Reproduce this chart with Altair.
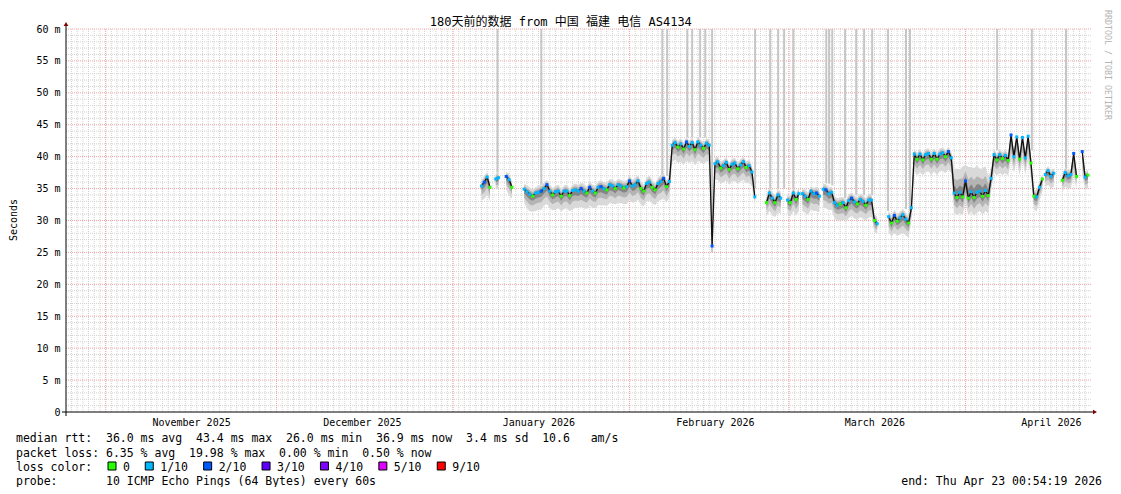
import altair as alt
import pandas as pd
from datetime import datetime, timedelta

FONT = "DejaVu Sans Mono, Noto Sans CJK SC, monospace"

# ---------------- data ----------------
title_text = "180天前的数据 from 中国 福建 电信 AS4134"
month_labels = ["2025-11-16", "2025-12-16", "2026-01-16", "2026-02-16", "2026-03-16", "2026-04-16"]
month_starts = ["2025-11-01", "2025-12-01", "2026-01-01", "2026-02-01", "2026-03-01", "2026-04-01"]

# segments of continuous data: start (days after 2026-01-01) and number of 12h samples
seg_start_day = [5.0, 7.5, 9.35, 12.5, 55.05, 58.75, 61.35, 65.0, 76.5, 104.0, 107.0, 110.5]
seg_count = [4, 2, 3, 82, 6, 5, 7, 20, 55, 4, 6, 3]

# median rtt (ms), one value per 12h sample
median = [
    35.4, 36.0, 36.8, 35.2,
    36.5, 36.7,
    36.9, 36.4, 35.2,
    # D
    34.9, 34.5, 34.1, 33.8, 34.3, 34.4, 34.6, 35.0, 35.6, 34.6,
    34.0, 34.5, 34.6, 33.8, 34.6, 34.6, 33.9, 34.7, 34.8, 34.6,
    35.0, 34.6, 34.3, 35.2, 34.6, 34.3, 35.2, 35.3, 35.0, 34.8,
    35.6, 35.4, 35.0, 35.6, 35.4, 35.1, 35.3, 36.2, 35.4, 35.6,
    36.2, 35.0, 34.6, 35.8, 36.0, 35.2, 34.8, 35.8, 36.1, 36.6,
    35.3, 36.1,
    41.8,
    42.2, 41.5, 42.0, 41.2, 42.3, 41.6, 42.2, 41.1, 42.3, 41.8, 41.3, 42.1, 41.8,
    26.0,
    38.9, 39.2, 38.2, 38.6, 39.1, 38.0, 38.8, 39.0, 38.1, 38.7, 39.2, 38.3, 38.6, 37.6,
    33.7,
    # E
    32.8, 34.3, 33.5, 32.8, 34.0, 33.5,
    # F
    33.2, 32.8, 34.3, 33.3, 34.2,
    # G
    34.2, 33.8, 33.3, 34.6, 34.2, 34.3, 33.8,
    # H
    34.9, 34.8, 34.2, 34.4, 32.8, 32.4, 32.6, 32.8, 32.0, 33.1,
    33.5, 32.9, 32.6, 33.3, 33.0, 32.4, 33.2, 33.2, 30.0, 29.5,
    # I
    30.6, 29.6, 30.8, 29.9, 30.4, 30.9, 30.2, 29.6,
    32.0,
    40.4, 39.6, 40.4, 39.5, 40.3, 40.5, 39.6, 40.5, 39.6, 40.4, 40.6, 40.0, 40.8, 39.8,
    34.3, 33.6, 34.4, 33.7, 36.2, 33.5, 34.5, 33.6, 34.4, 34.6, 33.8, 34.7, 33.9,
    36.6,
    40.3, 39.5, 40.3, 39.7, 40.2, 39.4,
    43.4, 40.0, 43.1, 39.6, 43.0, 39.8, 43.2, 39.0,
    33.8, 33.7, 35.2, 36.5,
    # J
    37.2, 37.8, 36.9, 37.4,
    # K
    36.3, 37.5, 37.0, 37.2, 40.5, 36.9,
    # L
    40.8, 36.8, 37.1,
]

# loss colour class per sample: 0 -> 0, 1 -> 1/10, 2 -> 2/10
loss = [
    1, 2, 1, 0,
    1, 1,
    2, 1, 0,
    1, 1, 1, 0, 1, 1, 2, 1, 2, 1,
    0, 1, 1, 0, 1, 1, 0, 1, 1, 1,
    2, 1, 0, 2, 1, 0, 1, 2, 1, 0,
    1, 1, 0, 1, 1, 0, 1, 2, 1, 1,
    1, 0, 0, 1, 1, 0, 0, 1, 1, 2,
    0, 1,
    1,
    1, 0, 1, 0, 2, 1, 1, 0, 1, 1, 0, 1, 1,
    2,
    1, 1, 0, 1, 1, 0, 1, 1, 0, 1, 1, 0, 1, 1,
    1,
    0, 1, 1, 0, 1, 1,
    1, 0, 1, 0, 1,
    1, 1, 0, 1, 1, 2, 1,
    1, 2, 1, 1, 1, 1, 0, 1, 0, 1, 2, 1, 0, 1, 1, 0, 1, 1, 0, 1,
    1, 0, 2, 0, 1, 1, 1, 0,
    1,
    1, 0, 1, 0, 1, 1, 0, 1, 0, 1, 1, 0, 2, 1,
    1, 0, 1, 0, 2, 0, 1, 0, 1, 1, 0, 1, 0,
    1,
    1, 0, 1, 0, 1, 0,
    2, 1, 1, 0, 1, 1, 1, 0,
    0, 1, 1, 0,
    1, 1, 1, 1,
    0, 1, 1, 1, 2, 0,
    2, 1, 0,
]

# how far the smoke reaches below / above the median (ms)
smoke_below = [
    2.3, 2.6, 2.8, 2.2,
    1.6, 1.8,
    2.0, 2.5, 1.8,
    2.2, 2.6, 2.7, 2.4, 2.8, 2.7, 2.9, 2.6, 3.0, 2.7,
    2.4, 2.8, 2.7, 2.4, 2.8, 2.7, 2.5, 2.9, 2.8, 2.6,
    2.9, 2.7, 2.5, 2.9, 2.6, 2.4, 2.8, 2.9, 2.6, 2.5,
    2.9, 2.7, 2.5, 2.8, 2.7, 2.5, 2.7, 3.0, 2.6, 2.7,
    2.9, 2.5, 2.4, 2.8, 2.9, 2.5, 2.4, 2.8, 2.9, 3.1,
    2.5, 2.4,
    2.6,
    2.7, 2.5, 2.8, 2.5, 2.9, 2.6, 2.8, 2.5, 2.9, 2.7, 2.5, 2.8, 2.6,
    0.8,
    2.5, 2.8, 2.4, 2.6, 2.8, 2.4, 2.7, 2.8, 2.4, 2.6, 2.8, 2.5, 2.6, 2.3,
    1.2,
    2.2, 2.8, 2.6, 2.3, 2.7, 2.5,
    2.3, 2.2, 2.8, 2.5, 2.7,
    2.7, 2.6, 2.4, 2.9, 2.7, 2.8, 2.5,
    2.8, 2.9, 2.6, 2.7, 2.5, 2.4, 2.6, 2.7, 2.3, 2.7,
    2.8, 2.6, 2.5, 2.8, 2.7, 2.4, 2.7, 2.6, 1.8, 1.6,
    2.4, 2.2, 2.7, 2.3, 2.6, 2.8, 2.5, 2.3,
    2.0,
    2.7, 2.5, 2.8, 2.4, 2.7, 2.8, 2.5, 2.8, 2.5, 2.7, 2.8, 2.6, 2.8, 2.4,
    3.0, 2.8, 3.2, 2.9, 3.4, 2.7, 3.1, 2.9, 3.2, 3.1, 2.9, 3.2, 2.8,
    2.0,
    2.7, 2.5, 2.8, 2.6, 2.7, 2.4,
    3.8, 2.6, 3.6, 2.5, 3.5, 2.6, 3.7, 2.4,
    2.0, 2.3, 2.1, 1.9,
    2.0, 2.2, 1.9, 2.1,
    1.8, 2.2, 2.0, 2.1, 3.5, 2.0,
    3.6, 2.0, 2.1,
]
smoke_above = [
    0.9, 1.0, 0.8, 0.9,
    0.9, 0.8,
    0.8, 0.9, 0.9,
    0.9, 1.0, 1.1, 1.0, 0.9, 1.0, 1.1, 0.9, 0.8, 1.0,
    1.1, 0.9, 1.0, 1.1, 0.9, 1.0, 1.1, 0.9, 1.0, 1.0,
    0.9, 1.1, 1.0, 0.9, 1.0, 1.1, 0.9, 1.0, 1.0, 1.1,
    0.9, 1.0, 1.1, 0.9, 1.0, 1.1, 1.0, 0.9, 1.0, 1.1,
    0.9, 1.1, 1.0, 0.9, 1.0, 1.1, 1.0, 0.9, 1.0, 0.8,
    1.0, 1.0,
    0.9,
    0.8, 1.0, 0.9, 1.0, 0.8, 0.9, 0.8, 1.0, 0.8, 0.9, 1.0, 0.8, 0.9,
    3.0,
    0.9, 0.8, 1.0, 0.9, 0.8, 1.0, 0.9, 0.8, 1.0, 0.9, 0.8, 1.0, 0.9, 1.0,
    0.8,
    1.0, 0.9, 1.0, 1.1, 0.9, 1.0,
    1.0, 1.1, 0.9, 1.0, 0.9,
    0.9, 1.0, 1.1, 0.8, 0.9, 1.0, 1.0,
    0.8, 0.9, 1.0, 0.9, 1.0, 1.1, 1.0, 0.9, 1.2, 1.0,
    0.9, 1.0, 1.1, 0.9, 1.0, 1.1, 1.0, 0.9, 1.0, 1.1,
    1.0, 1.1, 0.9, 1.1, 1.0, 0.9, 1.0, 1.1,
    1.0,
    0.8, 1.0, 0.8, 1.0, 0.9, 0.8, 1.0, 0.8, 1.0, 0.9, 0.8, 1.0, 0.7, 1.0,
    3.8, 4.5, 3.6, 4.8, 2.5, 4.9, 3.9, 4.6, 4.2, 3.5, 4.4, 3.8, 3.0,
    1.5,
    0.9, 1.0, 0.9, 1.0, 0.9, 1.0,
    0.5, 1.0, 0.5, 1.0, 0.5, 1.0, 0.5, 1.2,
    1.0, 1.1, 0.9, 0.8,
    0.8, 0.7, 0.9, 0.8,
    0.9, 0.8, 0.9, 0.8, 0.5, 0.9,
    0.5, 0.9, 0.8,
]

# smoke columns that run off the top of the graph (days after 2026-01-01, lower end in ms)
spike_day = [7.8, 15.5, 36.75, 37.6, 41.15, 42.0, 43.4, 44.3, 45.5, 53.05, 55.7, 57.1, 58.15, 59.75,
             65.55, 66.05, 66.6, 68.85, 70.8, 72.2, 73.6, 76.4, 79.55, 80.25, 95.55, 101.65, 107.65]
spike_bottom = [37.5, 35.0, 37.0, 37.0, 43.0, 43.0, 43.0, 43.0, 25.0, 35.0, 35.0, 35.0, 35.0, 35.0,
                35.8, 35.8, 35.5, 33.5, 34.0, 34.0, 34.0, 31.5, 31.8, 31.5, 41.0, 41.0, 38.0]

loss_names = ["0", "1/10", "2/10", "3/10", "4/10", "5/10", "9/10"]
loss_colors = ["#26ff00", "#00b8ff", "#0059ff", "#5e00ff", "#7e00ff", "#dd00ff", "#ff0000"]

y_ticks = [0, 5, 10, 15, 20, 25, 30, 35, 40, 45, 50, 55, 60]

legend_rtt = "median rtt:  36.0 ms avg  43.4 ms max  26.0 ms min  36.9 ms now  3.4 ms sd  10.6   am/s"
legend_loss = "packet loss: 6.35 % avg  19.98 % max  0.00 % min  0.50 % now"
legend_color = "loss color:"
legend_probe = "probe:       10 ICMP Echo Pings (64 Bytes) every 60s"
legend_end = "end: Thu Apr 23 00:54:19 2026"
watermark = "RRDTOOL / TOBI OETIKER"
y_title = "Seconds"

# ---------------- build tables ----------------
n_total = sum(seg_count)
for name, arr in [("median", median), ("loss", loss), ("smoke_below", smoke_below), ("smoke_above", smoke_above)]:
    if len(arr) != n_total:
        raise SystemExit(f"{name} has {len(arr)} values, expected {n_total}")

BASE = datetime(2026, 1, 1)


def iso(d):
    return (BASE + timedelta(days=d)).strftime("%Y-%m-%dT%H:%M:%S")


rows = []
i = 0
for s, (d0, n) in enumerate(zip(seg_start_day, seg_count)):
    for k in range(n):
        m = median[i]
        b = smoke_below[i]
        a = smoke_above[i]
        rows.append(dict(t=iso(d0 + 0.5 * k), seg=s, med=m, lossname=loss_names[loss[i]],
                         lo1=m - b, hi1=m + a, lo2=m - 0.6 * b, hi2=m + 0.6 * a,
                         lo3=m - 0.3 * b, hi3=m + 0.3 * a))
        i += 1
df = pd.DataFrame(rows)

df_spk = pd.DataFrame({"t": [iso(d) for d in spike_day], "bottom": spike_bottom})
days = pd.date_range("2025-10-26", "2026-04-22", freq="D")
df_days = pd.DataFrame({"t": [d.strftime("%Y-%m-%dT%H:%M:%S") for d in days]})
df_months = pd.DataFrame({"t": [m + "T00:00:00" for m in month_starts]})
df_hmin = pd.DataFrame({"v": [v for v in range(1, 60) if v % 5 != 0]})
df_hmaj = pd.DataFrame({"v": [v for v in range(5, 61, 5)]})

# ---------------- scales / axes ----------------
W, H = 1025, 383
xscale = alt.Scale(domain=[alt.DateTime(year=2025, month=10, date=25, hours=0, minutes=54, seconds=19),
                           alt.DateTime(year=2026, month=4, date=23, hours=0, minutes=54, seconds=19)])
yscale = alt.Scale(domain=[0, 60], nice=False, zero=False)
xaxis = alt.Axis(values=[alt.DateTime(year=int(m[:4]), month=int(m[5:7]), date=int(m[8:10])) for m in month_labels],
                 format="%B %Y", labelFont=FONT, labelFontSize=10, labelColor="#000", ticks=False,
                 domain=False, grid=False, labelPadding=5, title=None, labelOverlap=False, labelFlush=False)
yaxis = alt.Axis(values=y_ticks, labelExpr="datum.value == 0 ? '0' : datum.value + ' m'",
                 labelFont=FONT, labelFontSize=10, labelColor="#000", ticks=False, domain=False,
                 grid=False, labelPadding=6, title=None)


def X(f):
    return alt.X(f, type="temporal", scale=xscale, axis=xaxis)


def Y(f):
    return alt.Y(f, type="quantitative", scale=yscale, axis=yaxis)


layers = []
layers.append(alt.Chart(df_days).mark_rule(color="#d2d2d2", strokeWidth=1, strokeDash=[1, 1]).encode(x=X("t")))
layers.append(alt.Chart(df_hmin).mark_rule(color="#d2d2d2", strokeWidth=1, strokeDash=[1, 1]).encode(y=Y("v")))
layers.append(alt.Chart(df_months).mark_rule(color="#f2a4a4", strokeWidth=1, strokeDash=[1, 1]).encode(x=X("t")))
layers.append(alt.Chart(df_hmaj).mark_rule(color="#f2a4a4", strokeWidth=1, strokeDash=[1, 1]).encode(y=Y("v")))

layers.append(alt.Chart(df_spk).mark_rule(color="#c6c6c6", strokeWidth=2).encode(
    x=X("t"), y=Y("bottom"), y2=alt.value(0)))

for lo, hi, col in [("lo1", "hi1", "#d9d9d9"), ("lo2", "hi2", "#b4b4b4"), ("lo3", "hi3", "#858585")]:
    layers.append(alt.Chart(df).mark_area(color=col, opacity=1).encode(
        x=X("t"), y=Y(lo), y2=alt.Y2(hi), detail="seg:N"))

layers.append(alt.Chart(df).mark_line(color="#111111", strokeWidth=1.3).encode(
    x=X("t"), y=Y("med"), detail="seg:N"))
layers.append(alt.Chart(df).mark_square(size=9, opacity=1).encode(
    x=X("t"), y=Y("med"),
    color=alt.Color("lossname:N", scale=alt.Scale(domain=loss_names, range=loss_colors), legend=None)))


def txt(s, x, y, size=11.5, align="left", angle=0, color="#000", baseline="middle"):
    s = s.replace(" ", "\u00a0")
    return alt.Chart(pd.DataFrame({"s": [s]})).mark_text(
        font=FONT, fontSize=size, align=align, baseline=baseline, angle=angle, color=color
    ).encode(x=alt.value(x), y=alt.value(y), text="s:N")


# axis lines and arrows
layers.append(alt.Chart(pd.DataFrame({"a": [0]})).mark_rule(color="#000", strokeWidth=1).encode(
    x=alt.value(-4), x2=alt.value(W + 3), y=alt.value(H)))
layers.append(alt.Chart(pd.DataFrame({"a": [0]})).mark_rule(color="#000", strokeWidth=1).encode(
    x=alt.value(0), y=alt.value(-4), y2=alt.value(H + 4)))
layers.append(alt.Chart(pd.DataFrame({"a": [0]})).mark_point(shape="triangle-up", filled=True, size=22,
                                                              color="#800000", opacity=1).encode(
    x=alt.value(0), y=alt.value(-5)))
layers.append(alt.Chart(pd.DataFrame({"a": [0]})).mark_point(shape="triangle-right", filled=True, size=22,
                                                              color="#800000", opacity=1).encode(
    x=alt.value(W + 4), y=alt.value(H)))

# texts
layers.append(txt(title_text, 494.8, -7.5, size=12, align="center"))
layers.append(txt(watermark, 1041, 36, size=8.3, align="center", angle=90, color="#b4b4b4"))
layers.append(txt(y_title, -52.5, 191, size=10, align="center", angle=270))
layers.append(txt(legend_rtt, -50, 410))
layers.append(txt(legend_loss, -50, 424.5))
layers.append(txt(legend_color, -50, 438.5))
layers.append(txt(legend_probe, -50, 452.5))
layers.append(txt(legend_end, 1036, 452.5, align="right"))

# loss colour legend: each item is a box, a space, its label and a gap (monospace cells)
CHAR_W = 7.05
bx = 42.0
for nm, col in zip(loss_names, loss_colors):
    layers.append(alt.Chart(pd.DataFrame({"a": [0]})).mark_rect(color=col, stroke="#000", strokeWidth=1).encode(
        x=alt.value(bx), x2=alt.value(bx + 8), y=alt.value(433), y2=alt.value(441)))
    layers.append(txt(nm, bx + 15, 438.5))
    bx += 30.2 + CHAR_W * len(nm)

chart = alt.layer(*layers).properties(
    width=W, height=H,
    padding={"left": 58, "top": 21, "right": 22, "bottom": 75},
    autosize=alt.AutoSizeParams(type="none"),
    background="white",
).configure_view(stroke=None)

chart.save("out.html", embed_options={"renderer": "svg", "actions": False})
